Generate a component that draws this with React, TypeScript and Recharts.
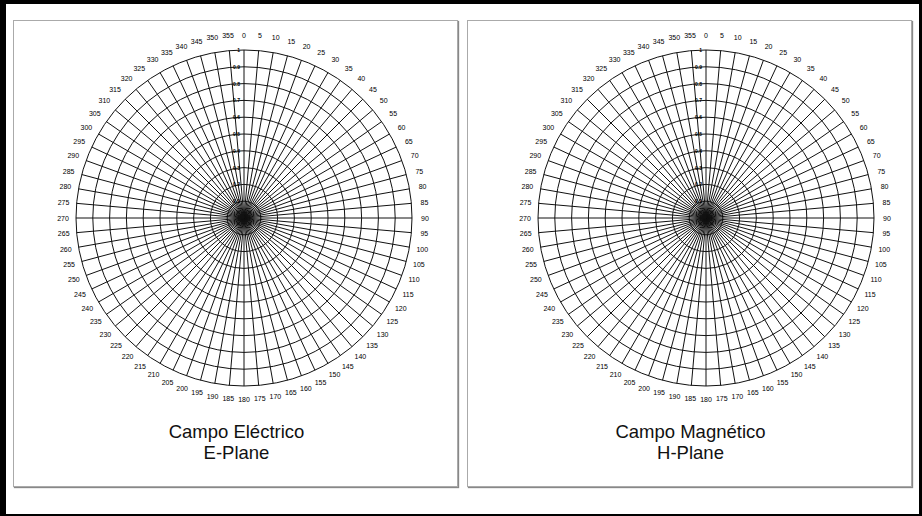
import React from "react";
import { RadarChart, Radar, PolarGrid, PolarAngleAxis, PolarRadiusAxis } from "recharts";

// angle categories (degrees), clockwise from the top
const angles = [
  0, 5, 10, 15, 20, 25, 30, 35, 40, 45, 50, 55, 60, 65, 70, 75, 80, 85,
  90, 95, 100, 105, 110, 115, 120, 125, 130, 135, 140, 145, 150, 155, 160, 165, 170, 175,
  180, 185, 190, 195, 200, 205, 210, 215, 220, 225, 230, 235, 240, 245, 250, 255, 260, 265,
  270, 275, 280, 285, 290, 295, 300, 305, 310, 315, 320, 325, 330, 335, 340, 345, 350, 355,
];

// radial scale ticks
const radiusTicks = [0, 0.1, 0.2, 0.3, 0.4, 0.5, 0.6, 0.7, 0.8, 0.9, 1];

const panels = [
  { title: "Campo Eléctrico", sub: "E-Plane" },
  { title: "Campo Magnético", sub: "H-Plane" },
];

const data = angles.map((a) => ({ angle: a }));

const CHART_W = 445;
const CHART_H = 400;
const R = 168;

function makeAngleTick(cx: number, cy: number) {
  return (props: any) => {
    const { x, y, payload } = props;
    const dx = x - cx;
    const dy = y - cy;
    const d = Math.sqrt(dx * dx + dy * dy) || 1;
    // a little more room at the top, like the original
    const push = 5 + Math.max(0, -dy / d) * 2;
    return (
      <text
        x={x + (dx / d) * push}
        y={y + (dy / d) * push}
        textAnchor="middle"
        dominantBaseline="central"
        fontSize={7}
        fontFamily="'Liberation Sans Narrow', 'Liberation Sans', Arial, sans-serif"
        fill="#000"
      >
        {payload.value}
      </text>
    );
  };
}

const RadiusTick = (props: any) => {
  const { x, y, payload } = props;
  if (payload.value === 0) return <g />;
  return (
    <text
      x={x - 4}
      y={y}
      textAnchor="end"
      dominantBaseline="central"
      fontSize={5}
      fontWeight="bold"
      fontFamily="'Liberation Sans', Arial, sans-serif"
      fill="#000"
    >
      {payload.value}
    </text>
  );
};

function Panel({ left, cx, title, sub }: { left: number; cx: number; title: string; sub: string }) {
  const cy = 198;
  return (
    <div
      style={{
        position: "absolute",
        left,
        top: 20,
        width: 445,
        height: 467,
        boxSizing: "border-box",
        border: "1px solid #aaa",
        boxShadow: "1px 1px 1px #888",
        background: "#fff",
      }}
    >
      <div style={{ position: "absolute", left: -1, top: -1 }}>
        <RadarChart width={CHART_W} height={CHART_H} data={data} cx={cx} cy={cy} outerRadius={R}>
          <PolarGrid gridType="circle" stroke="#111" strokeWidth={1} />
          <PolarAngleAxis
            dataKey="angle"
            type="category"
            tickLine={false}
            axisLine={false}
            tick={makeAngleTick(cx, cy)}
          />
          <PolarRadiusAxis
            type="number"
            angle={90}
            orientation="left"
            domain={[0, 1]}
            allowDataOverflow
            ticks={radiusTicks as any}
            axisLine={false}
            tickLine={false}
            tick={RadiusTick}
          />
          {/* invisible carrier series: the template has no plotted pattern */}
          <Radar
            dataKey="angle"
            stroke="none"
            fill="none"
            dot={false}
            legendType="none"
            isAnimationActive={false}
          />
        </RadarChart>
      </div>
      <div
        style={{
          position: "absolute",
          left: 0,
          width: 445,
          top: 400,
          textAlign: "center",
          fontFamily: "'Liberation Sans', Arial, sans-serif",
          fontSize: 18.5,
          lineHeight: "21px",
          color: "#111",
        }}
      >
        <div>{title}</div>
        <div>{sub}</div>
      </div>
    </div>
  );
}

export default function App() {
  return (
    <div
      style={{
        position: "absolute",
        left: 0,
        top: 0,
        width: 922,
        height: 516,
        boxSizing: "border-box",
        background: "#fff",
        borderTop: "4px solid #000",
        borderLeft: "6px solid #000",
        borderRight: "3px solid #000",
        borderBottom: "2px solid #000",
      }}
    >
      <div style={{ position: "absolute", left: -6, top: -4 }}>
        <Panel left={13} cx={231} title={panels[0].title} sub={panels[0].sub} />
        <Panel left={467} cx={239} title={panels[1].title} sub={panels[1].sub} />
      </div>
    </div>
  );
}
